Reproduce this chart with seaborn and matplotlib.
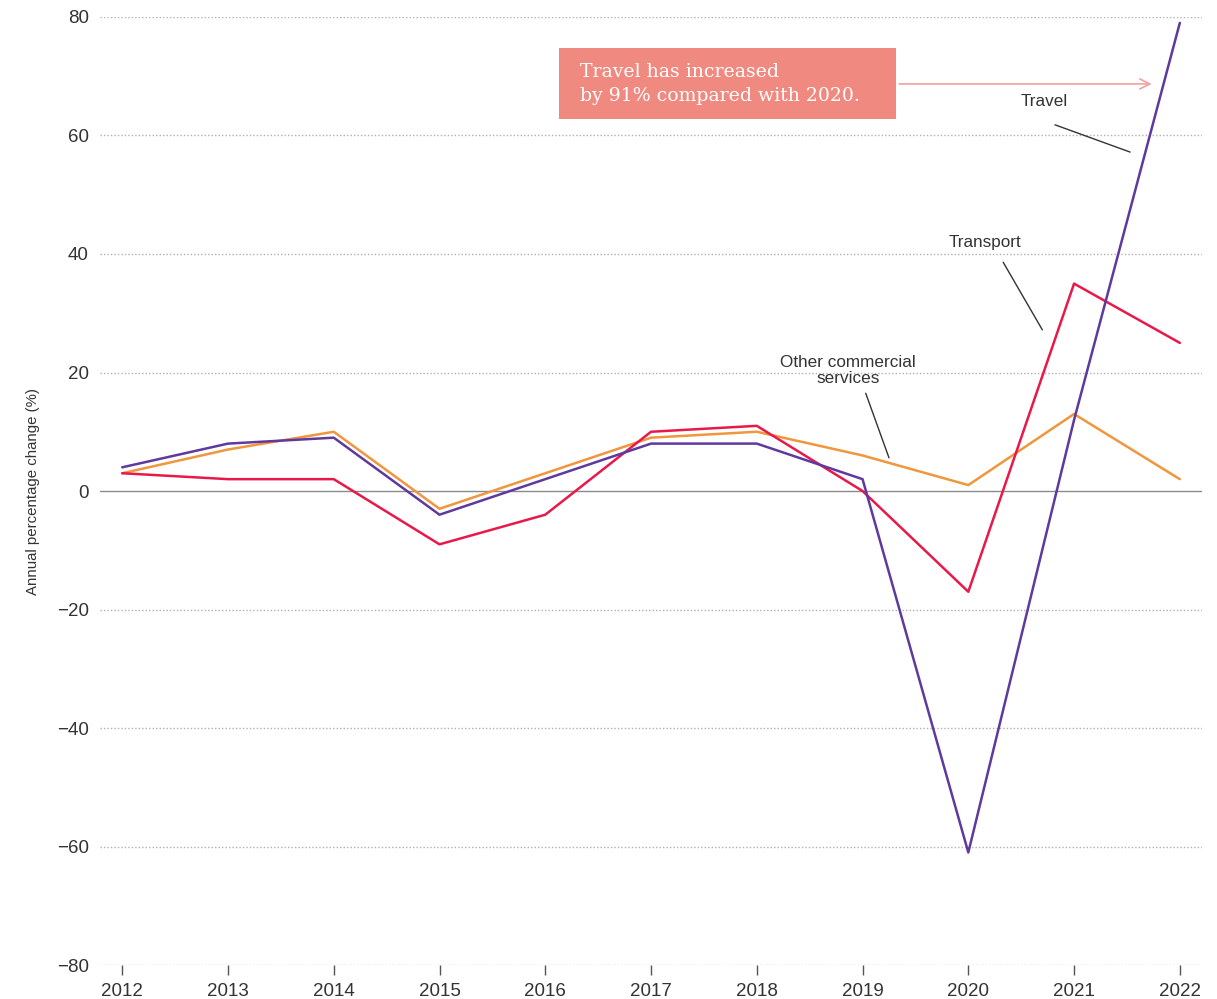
import pandas as pd
import matplotlib
matplotlib.use("Agg")
import matplotlib.pyplot as plt
from matplotlib.patches import Rectangle
import seaborn as sns

# values
years = list(range(2012, 2023))
travel = [4, 8, 9, -4, 2, 8, 8, 2, -61, 12, 79]
transport = [3, 2, 2, -9, -4, 10, 11, 0, -17, 35, 25]
other_services = [3, 7, 10, -3, 3, 9, 10, 6, 1, 13, 2]
y_ticks = [-80, -60, -40, -20, 0, 20, 40, 60, 80]

series_names = ["Other commercial services", "Transport", "Travel"]
palette = {"Other commercial services": "#f0963c",
           "Transport": "#e8194a",
           "Travel": "#5e3a9e"}

df = pd.DataFrame({
    "year": years * 3,
    "value": other_services + transport + travel,
    "series": [series_names[0]] * 11 + [series_names[1]] * 11 + [series_names[2]] * 11,
})

sns.set_theme(style="white")
plt.rcParams["font.family"] = ["Liberation Sans", "DejaVu Sans"]

fig = plt.figure(figsize=(12.17, 9.99), dpi=100)
ax = fig.add_axes([0.0822, 0.034, 0.9055, 0.949])

# gridlines and zero line
for t in y_ticks:
    if t == 0:
        ax.axhline(t, color="#8a8a8a", lw=1.0, zorder=1)
    else:
        ax.axhline(t, color="#b0b0b0", lw=1.0, ls=(0, (1, 1.5)), zorder=1)

sns.lineplot(data=df, x="year", y="value", hue="series", palette=palette,
             lw=1.8, legend=False, ax=ax, zorder=3)

ax.set_xlim(2011.79, 2022.21)
ax.set_ylim(-80, 80)
ax.set_xticks(years)
ax.set_yticks(y_ticks)
ax.set_yticklabels([str(t).replace("-", "\u2212") for t in y_ticks])
for s in ax.spines.values():
    s.set_visible(False)
ax.tick_params(axis="x", length=7, width=1, color="#555555", direction="out",
               pad=6, labelsize=13.5, labelcolor="#333333", bottom=True)
ax.tick_params(axis="y", length=0, pad=8, labelsize=13.5, labelcolor="#333333")
ax.set_xlabel("")
ax.set_ylabel("Annual percentage change (%)", fontsize=10.8, color="#333333",
              labelpad=12)

# series labels with leader lines
lab = dict(fontsize=12.3, color="#333333", ha="center", va="center")
ax.text(2020.72, 65.7, "Travel", **lab)
ax.plot([2020.82, 2021.53], [61.8, 57.2], color="#333333", lw=1)
ax.text(2020.16, 41.9, "Transport", **lab)
ax.plot([2020.33, 2020.70], [38.6, 27.2], color="#333333", lw=1)
ax.text(2018.86, 20.3, "Other commercial\nservices", linespacing=1.1, **lab)
ax.plot([2019.03, 2019.25], [16.5, 5.6], color="#333333", lw=1)

# callout box
ax.add_patch(Rectangle((2016.13, 62.8), 3.19, 12.0, facecolor="#f08a80",
                       edgecolor="none", zorder=4))
ax.text(2016.33, 68.7, "Travel has increased\nby 91% compared with 2020.",
        color="white", fontsize=13.6, family=["DejaVu Serif"],
        ha="left", va="center", linespacing=1.45, zorder=5)
ax.annotate("", xy=(2021.76, 68.7), xytext=(2019.32, 68.7),
            arrowprops=dict(arrowstyle="->", color="#f2a0a0", lw=1.2,
                            mutation_scale=18), zorder=4)

fig.savefig("out.png", dpi=100)
